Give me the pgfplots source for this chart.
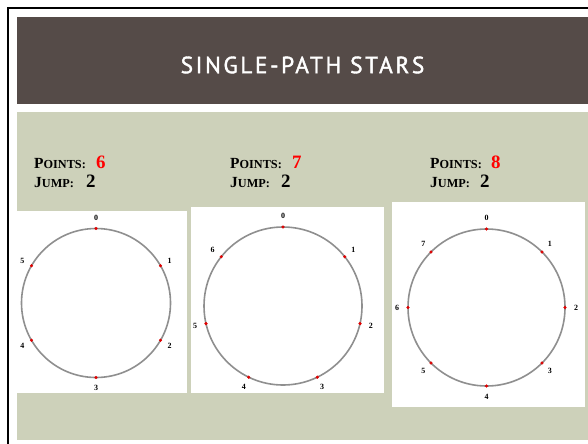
\documentclass[border=0pt]{standalone}
\usepackage{fontspec}
\setmainfont{Liberation Serif}
\newfontfamily\titlefont[LetterSpace=11,FakeBold=1.6]{PT Sans}
\usepackage{pgfplots}
\pgfplotsset{compat=1.18}
\definecolor{titlebg}{HTML}{554B48}
\definecolor{slidegreen}{HTML}{CDD1BA}
\definecolor{ringgray}{HTML}{8F8F8F}
\definecolor{dotred}{HTML}{E00000}
\definecolor{numred}{HTML}{FF0000}
\pgfplotsset{
 star/.style={hide axis, scale only axis, clip=false, xmin=-1,xmax=1,ymin=-1,ymax=1, anchor=center},
 dots/.style={only marks, mark=*, mark size=1.4bp, color=dotred},
 labs/.style={draw=none, mark=none, nodes near coords, point meta=explicit symbolic,
   nodes near coords style={anchor=center, font=\fontsize{8}{8}\selectfont\bfseries, text=black, inner sep=0pt}},
}
\newcommand{\sclab}[2]{{\fontsize{15.5}{15}\selectfont #1}{\fontsize{12.3}{12}\selectfont #2}}
\newcommand{\bignum}[1]{{\fontsize{19}{19}\selectfont\bfseries #1}}

\begin{document}
\begin{tikzpicture}[x=1bp,y=1bp]
\useasboundingbox (0,0) rectangle (588,-444);
\fill[white] (0,0) rectangle (588,-444);
\draw[black, line width=2.2bp] (8,-444) -- (8,-8) -- (588,-8);
\fill[titlebg] (17,-17) rectangle (588,-104);
\fill[slidegreen] (17,-112) rectangle (588,-440);
\node[text=white, font=\titlefont\fontsize{23.5}{23.5}\selectfont] at (302.5,-65) {SINGLE-PATH STARS};

% texts
\node[anchor=base west, inner sep=0pt, font=\bfseries] at (34,-169) {\sclab{P}{OINTS:}};
\node[anchor=base west, inner sep=0pt, text=numred] at (96,-169) {\bignum{6}};
\node[anchor=base west, inner sep=0pt, font=\bfseries] at (34,-188) {\sclab{J}{UMP:}};
\node[anchor=base west, inner sep=0pt] at (86,-188) {\bignum{2}};

\node[anchor=base west, inner sep=0pt, font=\bfseries] at (230,-169) {\sclab{P}{OINTS:}};
\node[anchor=base west, inner sep=0pt, text=numred] at (292,-169) {\bignum{7}};
\node[anchor=base west, inner sep=0pt, font=\bfseries] at (230,-188) {\sclab{J}{UMP:}};
\node[anchor=base west, inner sep=0pt] at (281,-188) {\bignum{2}};

\node[anchor=base west, inner sep=0pt, font=\bfseries] at (430,-169) {\sclab{P}{OINTS:}};
\node[anchor=base west, inner sep=0pt, text=numred] at (491,-169) {\bignum{8}};
\node[anchor=base west, inner sep=0pt, font=\bfseries] at (430,-188) {\sclab{J}{UMP:}};
\node[anchor=base west, inner sep=0pt] at (480,-188) {\bignum{2}};

% white panels
\fill[white] (17,-211) rectangle (187,-393);
\fill[white] (191,-207) rectangle (384,-393);
\fill[white] (392,-202) rectangle (585,-407);

\begin{axis}[star, at={(96bp,-303bp)}, width=149bp, height=149bp]
\draw[ringgray, line width=1.6bp] (axis cs:0,0) circle[radius=74.5bp];
\addplot[dots] coordinates {(0,1) (0.866,0.5) (0.866,-0.5) (0,-1) (-0.866,-0.5) (-0.866,0.5)};
\addplot[labs] coordinates {(0,1.14)[0] (0.987,0.57)[1] (0.987,-0.57)[2] (0,-1.14)[3] (-0.987,-0.57)[4] (-0.987,0.57)[5]};
\end{axis}

\begin{axis}[star, at={(283bp,-306bp)}, width=158bp, height=158bp]
\draw[ringgray, line width=1.6bp] (axis cs:0,0) circle[radius=79bp];
\addplot[dots] coordinates {(0,1) (0.7818,0.6235) (0.9749,-0.2225) (0.4339,-0.9010) (-0.4339,-0.9010) (-0.9749,-0.2225) (-0.7818,0.6235)};
\addplot[labs] coordinates {(0,1.14)[0] (0.891,0.711)[1] (1.111,-0.254)[2] (0.495,-1.027)[3] (-0.495,-1.027)[4] (-1.111,-0.254)[5] (-0.891,0.711)[6]};
\end{axis}

\begin{axis}[star, at={(486.5bp,-307.5bp)}, width=157bp, height=157bp]
\draw[ringgray, line width=1.6bp] (axis cs:0,0) circle[radius=78.5bp];
\addplot[dots] coordinates {(0,1) (0.7071,0.7071) (1,0) (0.7071,-0.7071) (0,-1) (-0.7071,-0.7071) (-1,0) (-0.7071,0.7071)};
\addplot[labs] coordinates {(0,1.14)[0] (0.806,0.806)[1] (1.14,0)[2] (0.806,-0.806)[3] (0,-1.14)[4] (-0.806,-0.806)[5] (-1.14,0)[6] (-0.806,0.806)[7]};
\end{axis}
\end{tikzpicture}
\end{document}
